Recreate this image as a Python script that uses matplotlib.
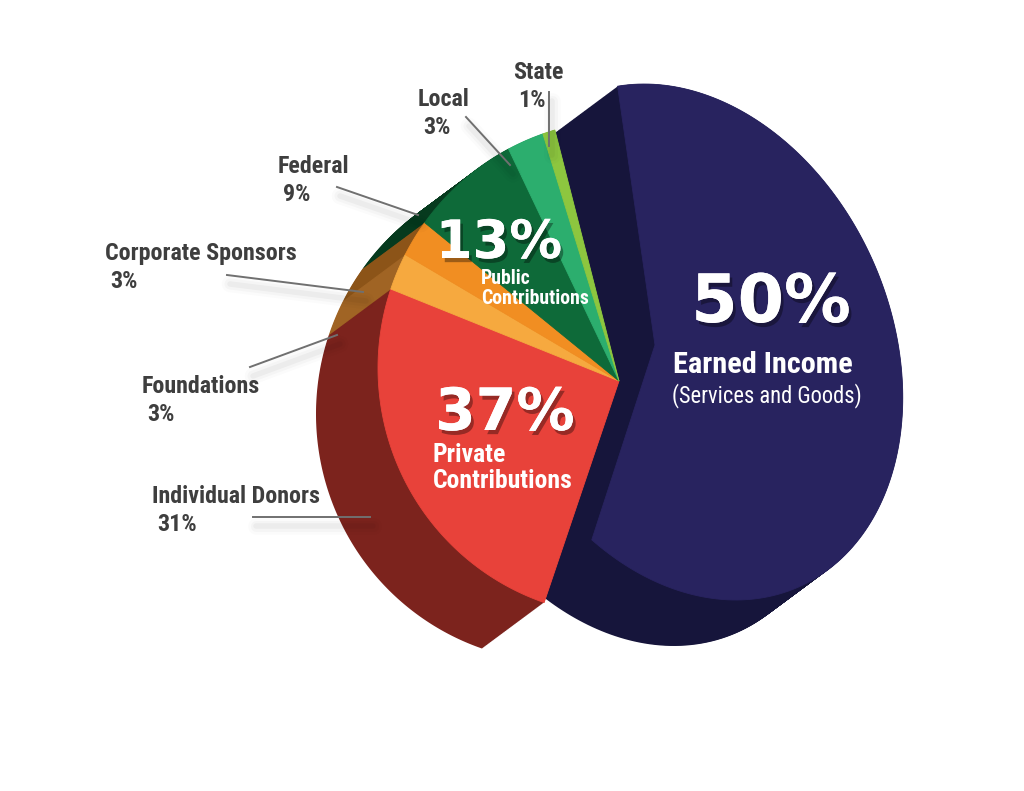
import numpy as np
import matplotlib.pyplot as plt
from matplotlib.patches import Polygon
from matplotlib import font_manager
import matplotlib.patheffects as pe

# funding sources (percent)
categories = ['Individual Donors', 'Foundations', 'Corporate Sponsors', 'Federal', 'Local', 'State']
values = [31, 3, 3, 9, 3, 1]
earned_name = 'Earned Income'
earned_sub = '(Services and Goods)'
earned_value = 50
group_names = ['Private\nContributions', 'Public\nContributions']
group_members = [[0, 1, 2], [3, 4, 5]]

face_colors = ['#e8423a', '#f6a93f', '#f18e22', '#0e6a39', '#2cae6e', '#8dc63f']
side_colors = ['#7c231d', '#a06424', '#8c5418', '#063a1e', '#1c7448', '#5a8a28']
navy_face = '#28235f'
navy_side = '#16153b'
label_col = '#3e3e3e'

# layout of the (hand drawn, tilted) pie in pixel space
W, H = 1024, 791
depth = np.array([-62.0, 46.0])
left_apex = np.array([619.0, 381.0])
left_shape = dict(c=(624.0, 368.0), a=246.0, b=248.0, tilt=0.0)
left_start, left_span = 251.2, 145.0
navy_apex = np.array([655.0, 345.0])
navy_shape = dict(c=(690.0, 342.0), a=268.0, b=200.0, tilt=114.0)
navy_start, navy_span = 105.8, 222.2

label_pos = [(152, 503), (142, 393), (105, 260), (278, 173), (418, 106), (513, 79)]
leaders = [((253, 517), (370, 517)), ((250, 367), (337, 335)), ((227, 275), (363, 292)),
           ((337, 187), (418, 215)), ((466, 117), (510, 165)), ((549, 92), (549, 146))]

# pick a narrow sans if there is one
have = {f.name for f in font_manager.fontManager.ttflist}
narrow = 'DejaVu Sans'
for cand in ['Liberation Sans Narrow', 'Roboto Condensed', 'Open Sans Condensed', 'Arial Narrow']:
    if cand in have:
        narrow = cand
        break
nfont = dict(family=[narrow, 'DejaVu Sans'], fontstretch='condensed')


def arc(shape, a0, a1, n=200):
    phi = np.radians(np.linspace(a0, a1, n))
    rel = phi - np.radians(shape['tilt'])
    r = 1.0 / np.sqrt(np.cos(rel) ** 2 / shape['a'] ** 2 + np.sin(rel) ** 2 / shape['b'] ** 2)
    cx, cy = shape['c']
    return np.column_stack([cx + r * np.cos(phi), cy - r * np.sin(phi)])


def wedge(apex, shape, a0, a1):
    return np.vstack([apex, arc(shape, a0, a1)])


def extrude(ax, pts, color, z):
    for t in np.linspace(0, 1, 80):
        ax.add_patch(Polygon(pts + t * depth, closed=True, fc=color, ec='none', zorder=z))


fig = plt.figure(figsize=(10.24, 7.91), dpi=100)
ax = fig.add_axes([0, 0, 1, 1])
ax.set_xlim(0, W)
ax.set_ylim(H, 0)
ax.axis('off')
renderer = fig.canvas.get_renderer()


def fit(txt, width):
    # scale font so the text spans about `width` pixels like in the reference
    w = txt.get_window_extent(renderer).width
    txt.set_fontsize(txt.get_fontsize() * width / w)
    return txt


# slice angles from the values
per = left_span / sum(values)
bounds = left_start - per * np.concatenate([[0], np.cumsum(values)])
left_pts = [wedge(left_apex, left_shape, bounds[i], bounds[i + 1]) for i in range(len(values))]

navy_end = navy_start - navy_span * earned_value / earned_value
navy_pts = wedge(navy_apex, navy_shape, navy_start, navy_end)

extrude(ax, navy_pts, navy_side, 1)
for i in reversed(range(len(values))):
    extrude(ax, left_pts[i], side_colors[i], 2)
for i in range(len(values)):
    ax.add_patch(Polygon(left_pts[i], closed=True, fc=face_colors[i], ec=face_colors[i], lw=0.6, zorder=3))
ax.add_patch(Polygon(navy_pts, closed=True, fc=navy_face, ec=navy_face, lw=0.6, zorder=4))

# leader lines + outside labels
for (p0, p1) in leaders:
    for lw, a in [(12, 0.015), (8, 0.025), (4, 0.035)]:
        ax.plot([p0[0] + 3, p1[0] + 3], [p0[1] + 9, p1[1] + 9], color='k', alpha=a, lw=lw,
                solid_capstyle='round', zorder=5)
    ax.plot([p0[0], p1[0]], [p0[1], p1[1]], color='#707070', lw=1.4, zorder=6)

probe = ax.text(0, 0, 'Corporate Sponsors', fontweight='bold', fontsize=17, **nfont)
fit(probe, 191)
lab_size = probe.get_fontsize()
probe.remove()
for name, v, (x, y) in zip(categories, values, label_pos):
    ax.text(x, y, name, fontweight='bold', fontsize=lab_size, color=label_col,
            ha='left', va='baseline', zorder=7, **nfont)
    ax.text(x + 5, y + 28, f'{v}%', fontweight='bold', fontsize=lab_size, color=label_col,
            ha='left', va='baseline', zorder=7, **nfont)

shadow = [pe.withSimplePatchShadow(offset=(2, -3), shadow_rgbFace='k', alpha=0.35), pe.Normal()]

# group labels inside the slices
pub = sum(values[i] for i in group_members[1])
prv = sum(values[i] for i in group_members[0])
ax.text(499, 258, f'{pub}%', family='DejaVu Sans', fontweight='bold', fontsize=38, color='white',
        ha='center', va='baseline', zorder=8, path_effects=shadow)
l1, l2 = group_names[1].split('\n')
t = fit(ax.text(481, 304, l2, fontweight='bold', fontsize=14, color='white',
                ha='left', va='baseline', zorder=8, **nfont), 108)
ax.text(481, 284, l1, fontweight='bold', fontsize=t.get_fontsize(), color='white',
        ha='left', va='baseline', zorder=8, **nfont)

ax.text(505, 430, f'{prv}%', family='DejaVu Sans', fontweight='bold', fontsize=42, color='white',
        ha='center', va='baseline', zorder=8, path_effects=shadow)
l1, l2 = group_names[0].split('\n')
t = fit(ax.text(433, 488, l2, fontweight='bold', fontsize=18, color='white',
                ha='left', va='baseline', zorder=8, **nfont), 139)
ax.text(433, 462, l1, fontweight='bold', fontsize=t.get_fontsize(), color='white',
        ha='left', va='baseline', zorder=8, **nfont)

ax.text(771, 322, f'{earned_value}%', family='DejaVu Sans', fontweight='bold', fontsize=48,
        color='white', ha='center', va='baseline', zorder=8, path_effects=shadow)
fit(ax.text(763, 373, earned_name, fontweight='bold', fontsize=22, color='white',
            ha='center', va='baseline', zorder=8, **nfont), 180)
fit(ax.text(767, 402, earned_sub, fontsize=17, color='white',
            ha='center', va='baseline', zorder=8, **nfont), 190)

fig.savefig('out.png', dpi=100, facecolor='white')
